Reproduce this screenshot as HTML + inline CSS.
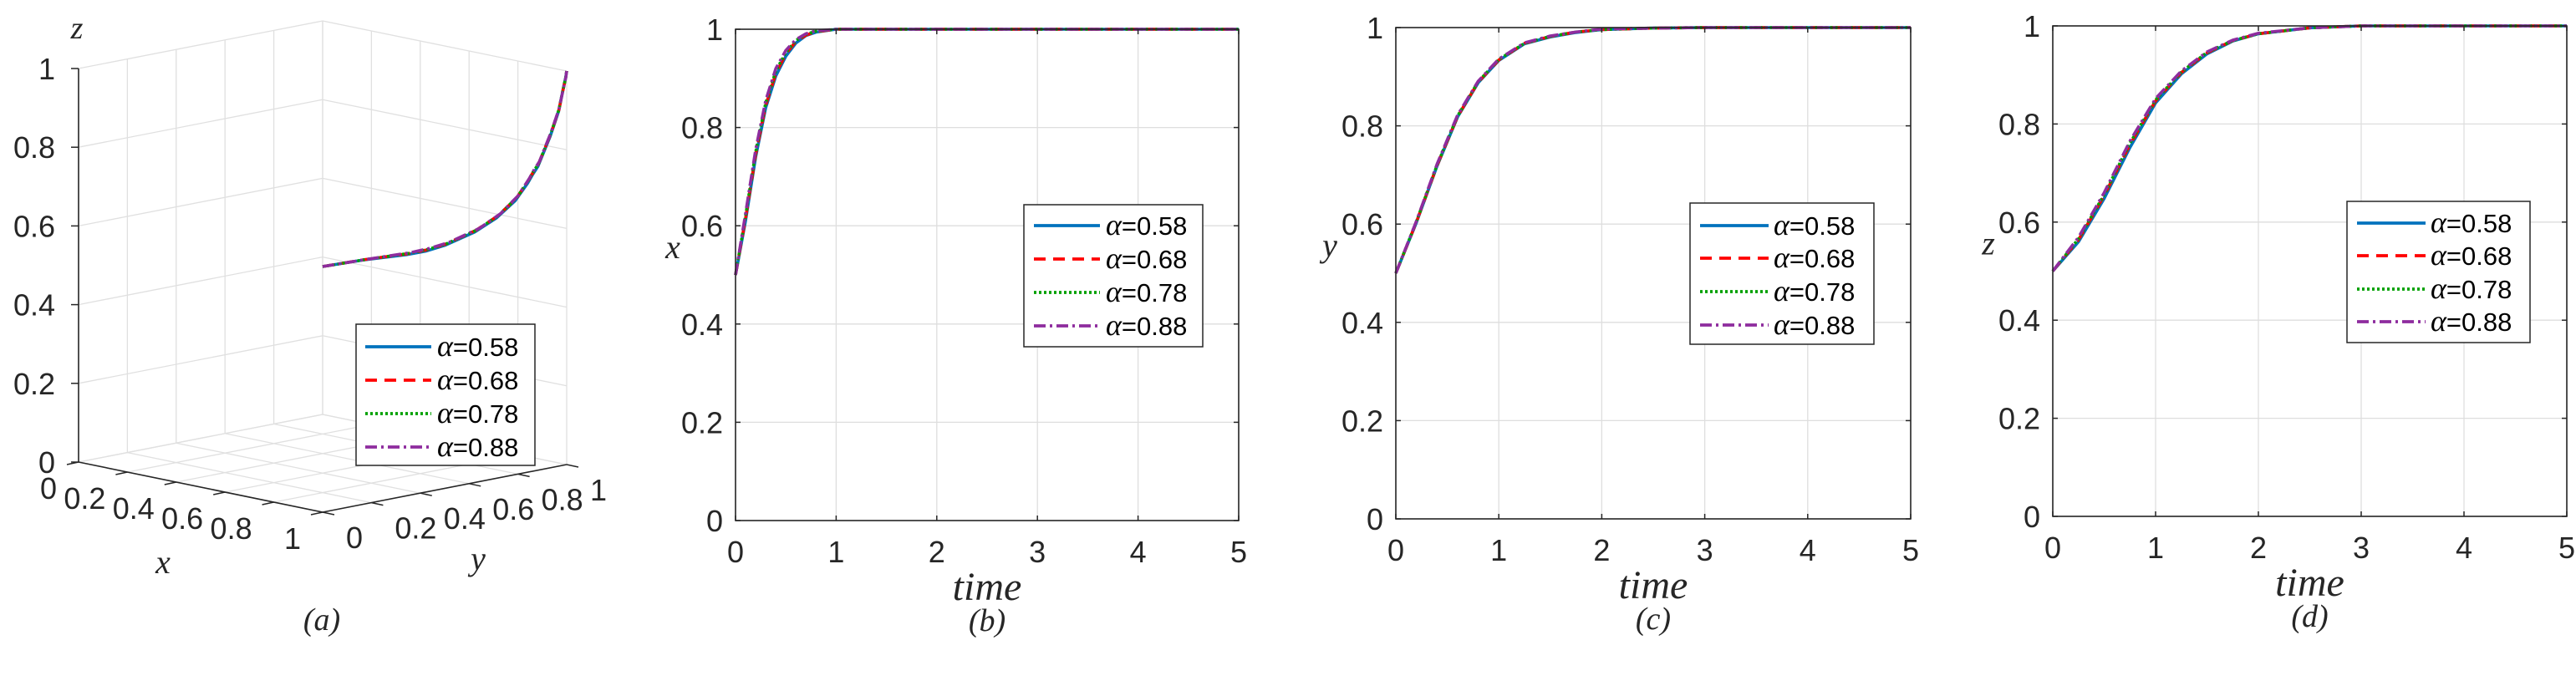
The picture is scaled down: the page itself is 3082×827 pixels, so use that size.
<!DOCTYPE html>
<html><head><meta charset="utf-8"><style>
html,body{margin:0;padding:0;background:#fff;}
svg{display:block;font-family:"Liberation Sans",sans-serif;}
.tk{font-size:36px;fill:#262626;}
.lg{font-size:31px;fill:#000;}
.it{font-family:"Liberation Serif",serif;font-style:italic;fill:#262626;}
</style></head><body>
<svg id="fig" width="3082" height="827" viewBox="0 0 3082 827" xmlns="http://www.w3.org/2000/svg"></svg>
<script>
// ---- data ----
const alphaLabels = ["0.58","0.68","0.78","0.88"];
const xTicks2d = [0,1,2,3,4,5];
const yTicks2d = [0,0.2,0.4,0.6,0.8,1];
const yTickLabels = ["0","0.2","0.4","0.6","0.8","1"];
// x(t)
const tX = [0,0.1,0.2,0.3,0.4,0.5,0.6,0.7,0.8,1,1.5,2,3,4,5];
const x058 = [0.5,0.61,0.74,0.84,0.905,0.945,0.972,0.987,0.994,1,1,1,1,1,1];
const x068 = [0.5,0.615,0.745,0.845,0.91,0.95,0.975,0.988,0.995,1,1,1,1,1,1];
const x078 = [0.5,0.62,0.75,0.85,0.915,0.953,0.977,0.99,0.996,1,1,1,1,1,1];
const x088 = [0.5,0.625,0.755,0.855,0.92,0.957,0.979,0.991,0.997,1,1,1,1,1,1];
// y(t)
const tY = [0,0.2,0.4,0.6,0.8,1,1.25,1.5,1.75,2,2.5,3,4,5];
const y058 = [0.5,0.603,0.718,0.818,0.888,0.933,0.967,0.981,0.99,0.996,0.999,1,1,1];
const y068 = [0.5,0.604,0.719,0.819,0.889,0.934,0.968,0.982,0.991,0.996,0.999,1,1,1];
const y078 = [0.5,0.605,0.72,0.82,0.89,0.935,0.968,0.982,0.991,0.996,0.999,1,1,1];
const y088 = [0.5,0.606,0.722,0.822,0.891,0.936,0.969,0.983,0.991,0.997,0.999,1,1,1];
// z(t)
const tZ = [0,0.25,0.5,0.75,1,1.25,1.5,1.75,2,2.5,3,4,5];
const z058 = [0.5,0.56,0.648,0.752,0.843,0.902,0.943,0.969,0.984,0.996,1,1,1];
const z068 = [0.5,0.564,0.654,0.758,0.847,0.905,0.945,0.97,0.984,0.996,1,1,1];
const z078 = [0.5,0.566,0.656,0.761,0.849,0.906,0.946,0.97,0.984,0.996,1,1,1];
const z088 = [0.5,0.569,0.66,0.765,0.852,0.908,0.947,0.971,0.985,0.996,1,1,1];
const ticks3d = [0,0.2,0.4,0.6,0.8,1];
const tickLabels3d = ["0","0.2","0.4","0.6","0.8","1"];

const styles = [
  {c:"#0072BD",d:""},
  {c:"#FF0000",d:"14,9"},
  {c:"#00A000",d:"3,3"},
  {c:"#8E2C9E",d:"14,5,3,5"}
];
const NS="http://www.w3.org/2000/svg";
const svg=document.getElementById("fig");
function el(tag,attrs,parent){const e=document.createElementNS(NS,tag);for(const k in attrs)e.setAttribute(k,attrs[k]);(parent||svg).appendChild(e);return e;}
function txt(s,attrs,parent){const e=el("text",attrs,parent);e.textContent=s;return e;}

function legend(x0,y0,w,h,rows,lineX1,lineX2,textX,name){
  const g=el("g",{});
  
  
  const r=el("rect",{x:x0,y:y0,width:w,height:h,fill:"#fff",stroke:"#262626","stroke-width":1.5},g);
  
  
  for(let i=0;i<4;i++){
    const yy=rows[i];
    const ln=el("line",{x1:lineX1,x2:lineX2,y1:yy,y2:yy,stroke:styles[i].c,"stroke-width":3.8,"stroke-dasharray":styles[i].d},g);
    
    
    const t=el("text",{x:textX,y:yy+11,class:"lg"},g);
    
    
    const a=el("tspan",{"font-family":"Liberation Serif,serif","font-style":"italic","font-size":"36"},t);a.textContent="α";
    const b=el("tspan",{},t);b.textContent="="+alphaLabels[i];
  }
}

function panel2d(o){
  const g=el("g",{});
  
  
  const sx=v=>o.L+(o.R-o.L)*v/5;
  const sy=v=>o.B-(o.B-o.T)*v;
  xTicks2d.forEach(v=>{const l=el("line",{x1:sx(v),x2:sx(v),y1:o.T,y2:o.B,stroke:"#dedede","stroke-width":1.3},g);
    });
  yTicks2d.forEach(v=>{const l=el("line",{x1:o.L,x2:o.R,y1:sy(v),y2:sy(v),stroke:"#dedede","stroke-width":1.3},g);
    });
  o.series.forEach((s,i)=>{
    const pts=o.t.map((tv,j)=>sx(tv).toFixed(1)+","+sy(s[j]).toFixed(1)).join(" ");
    const p=el("polyline",{points:pts,fill:"none",stroke:styles[i].c,"stroke-width":3.6,"stroke-dasharray":styles[i].d,"stroke-linejoin":"round"},g);
    
    
  });
  const bx=el("rect",{x:o.L,y:o.T,width:o.R-o.L,height:o.B-o.T,fill:"none",stroke:"#262626","stroke-width":1.6},g);
  
  xTicks2d.forEach(v=>{
    el("line",{x1:sx(v),x2:sx(v),y1:o.B,y2:o.B-6,stroke:"#262626","stroke-width":1.5},g);
    el("line",{x1:sx(v),x2:sx(v),y1:o.T,y2:o.T+6,stroke:"#262626","stroke-width":1.5},g);
    const t=txt(String(v),{x:sx(v),y:o.B+50,class:"tk","text-anchor":"middle"},g);
    
  });
  yTicks2d.forEach((v,i)=>{
    el("line",{x1:o.L,x2:o.L+6,y1:sy(v),y2:sy(v),stroke:"#262626","stroke-width":1.5},g);
    el("line",{x1:o.R,x2:o.R-6,y1:sy(v),y2:sy(v),stroke:"#262626","stroke-width":1.5},g);
    const t=txt(yTickLabels[i],{x:o.L-15,y:sy(v)+13,class:"tk","text-anchor":"end"},g);
    
  });
  const yl=txt(o.ylab,{x:o.ylx,y:sy(0.5)-20,class:"it","font-size":"40","text-anchor":"middle"},g);
  
  const xl=txt("time",{x:(o.L+o.R)/2,y:o.B+95,class:"it","font-size":"48","text-anchor":"middle"},g);
  
  const cap=txt("("+o.cap+")",{x:(o.L+o.R)/2,y:o.B+132,class:"it","font-size":"38","text-anchor":"middle"},g);
  
  legend(o.lg[0],o.lg[1],o.lg[2],o.lg[3],o.lg[4],o.lg[5],o.lg[6],o.lg[7],o.name+'-legend');
}

// ---- panel a (3D) ----
(function(){
  const O=[94,553], ex=[292,60], ey=[292,-57], ez=[0,-471];
  const P=(x,y,z)=>[O[0]+x*ex[0]+y*ey[0]+z*ez[0], O[1]+x*ex[1]+y*ey[1]+z*ez[1]];
  const g=el("g",{});
  
  
  const gl=(a,b)=>{const l=el("line",{x1:a[0],y1:a[1],x2:b[0],y2:b[1],stroke:"#e0e0e0","stroke-width":1.3},g);
    };
  ticks3d.forEach(v=>{
    gl(P(0,v,0),P(0,v,1)); gl(P(0,0,v),P(0,1,v));
    gl(P(v,1,0),P(v,1,1)); gl(P(0,1,v),P(1,1,v));
    gl(P(v,0,0),P(v,1,0)); gl(P(0,v,0),P(1,v,0));
  });
  const ax=(a,b,n)=>{const l=el("line",{x1:a[0],y1:a[1],x2:b[0],y2:b[1],stroke:"#262626","stroke-width":1.6},g);
    };
  ax(P(0,0,0),P(0,0,1),'z-axis'); ax(P(0,0,0),P(1,0,0),'x-axis'); ax(P(1,0,0),P(1,1,0),'y-axis');
  ticks3d.forEach((v,i)=>{
    let p=P(0,0,v); el("line",{x1:p[0]-9,y1:p[1],x2:p[0],y2:p[1],stroke:"#262626","stroke-width":1.5},g);
    let t=txt(tickLabels3d[i],{x:p[0]-28,y:p[1]+13,class:"tk","text-anchor":"end"},g);
    
    p=P(v,0,0); el("line",{x1:p[0],y1:p[1],x2:p[0]-14,y2:p[1]+3,stroke:"#262626","stroke-width":1.5},g);
    t=txt(tickLabels3d[i],{x:p[0]-26,y:p[1]+44,class:"tk","text-anchor":"end"},g);
    
    p=P(1,v,0); el("line",{x1:p[0],y1:p[1],x2:p[0]+14,y2:p[1]+3,stroke:"#262626","stroke-width":1.5},g);
    t=txt(tickLabels3d[i],{x:p[0]+28,y:p[1]+43,class:"tk","text-anchor":"start"},g);
    
  });
  const interp=(T,V,t)=>{if(t<=T[0])return V[0];for(let k=1;k<T.length;k++){if(t<=T[k]){const f=(t-T[k-1])/(T[k]-T[k-1]);return V[k-1]+f*(V[k]-V[k-1]);}}return V[V.length-1];};
  const xs=[x058,x068,x078,x088], ys=[y058,y068,y078,y088], zs=[z058,z068,z078,z088];
  const tAll=[...new Set([...tX,...tY,...tZ])].sort((a,b)=>a-b);
  for(let i=0;i<4;i++){
    const pts=tAll.map(t=>{const p=P(interp(tX,xs[i],t),interp(tY,ys[i],t),interp(tZ,zs[i],t));return p[0].toFixed(1)+","+p[1].toFixed(1);}).join(" ");
    const pl=el("polyline",{points:pts,fill:"none",stroke:styles[i].c,"stroke-width":3.6,"stroke-dasharray":styles[i].d,"stroke-linejoin":"round"},g);
    
    
  }
  let t=txt("x",{x:195,y:686,class:"it","font-size":"40","text-anchor":"middle"},g);
  
  t=txt("y",{x:572,y:682,class:"it","font-size":"40","text-anchor":"middle"},g);
  
  t=txt("z",{x:92,y:46,class:"it","font-size":"38","text-anchor":"middle"},g);
  
  t=txt("(a)",{x:385,y:754,class:"it","font-size":"38","text-anchor":"middle"},g);
  
  legend(426,388,214,169,[415,455,495,535],437,516,523,'panel-a-legend');
})();

panel2d({name:"panel-b-x",L:880,R:1482,T:35,B:623,t:tX,series:[x058,x068,x078,x088],ylab:"x",ylx:805,cap:"b",
  lg:[1225,245,214,170,[270,310,350,390],1237,1316,1323]});
panel2d({name:"panel-c-y",L:1670,R:2286,T:33,B:621,t:tY,series:[y058,y068,y078,y088],ylab:"y",ylx:1591,cap:"c",
  lg:[2022,243,220,169,[270,309,349,389],2034,2116,2122]});
panel2d({name:"panel-d-z",L:2456,R:3071,T:31,B:618,t:tZ,series:[z058,z068,z078,z088],ylab:"z",ylx:2379,cap:"d",
  lg:[2808,241,219,169,[267,306,346,385],2820,2902,2908]});
</script>
</body></html>
